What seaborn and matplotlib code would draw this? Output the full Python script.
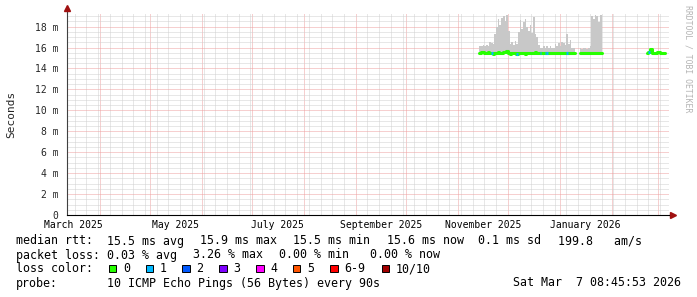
import pandas as pd
import numpy as np
import matplotlib
matplotlib.use('Agg')
import matplotlib.pyplot as plt
import matplotlib.dates as mdates
from matplotlib.ticker import MultipleLocator, FuncFormatter
from matplotlib.patches import Rectangle
import seaborn as sns

# Data (values in ms, one value per day)

seg1_start = '2025-11-14'
seg1_top = [16.1, 16.1, 16.2, 16.1, 16.2, 16.1, 16.5, 16.4, 16.3, 17.3,
            18.0, 18.7, 18.2, 18.8, 19.0, 18.5, 19.1, 17.6, 16.3, 16.5,
            16.2, 16.6, 16.3, 17.5, 18.6, 17.8, 18.4, 18.7, 18.0, 17.6,
            18.2, 17.4, 18.9, 17.3, 17.0, 16.2, 16.0, 16.0, 16.1, 16.0,
            16.1, 16.0, 16.1, 16.0, 16.0, 16.3, 16.1, 16.4, 16.1, 16.5,
            16.4, 16.2, 17.3, 16.3, 16.7, 16.0, 16.0]
seg1_med = [15.5, 15.6, 15.6, 15.5, 15.5, 15.6, 15.5, 15.5, 15.4, 15.5,
            15.5, 15.6, 15.5, 15.5, 15.6, 15.6, 15.7, 15.5, 15.4, 15.5,
            15.5, 15.5, 15.4, 15.5, 15.5, 15.5, 15.5, 15.4, 15.5, 15.5,
            15.5, 15.5, 15.5, 15.6, 15.5, 15.5, 15.5, 15.5, 15.5, 15.5,
            15.5, 15.5, 15.5, 15.5, 15.5, 15.5, 15.5, 15.5, 15.5, 15.5,
            15.5, 15.5, 15.5, 15.5, 15.5, 15.5, 15.5]
seg1_loss = [0, 0, 0, 0, 0, 0, 0, 1, 0, 0,
             0, 0, 0, 0, 0, 0, 0, 0, 0, 0,
             0, 0, 1, 0, 0, 0, 0, 0, 0, 0,
             0, 0, 0, 0, 0, 0, 1, 0, 0, 1,
             1, 0, 0, 0, 0, 0, 0, 0, 0, 0,
             0, 0, 1, 0, 0, 0, 0]

seg2_start = '2026-01-13'
seg2_top = [16.0, 15.9, 16.0, 16.0, 15.9, 16.0, 16.1, 19.0, 18.7, 19.1, 19.0, 18.4, 19.1]
seg2_med = [15.5, 15.5, 15.5, 15.5, 15.5, 15.5, 15.5, 15.5, 15.5, 15.5, 15.5, 15.5, 15.5]
seg2_loss = [0, 0, 0, 0, 0, 0, 0, 0, 0, 0, 0, 0, 0]

seg3_start = '2026-02-22'
seg3_top = [15.5, 15.6, 15.9, 15.5, 15.5, 15.5, 15.6, 15.6, 15.5, 15.5, 15.5]
seg3_med = [15.5, 15.6, 15.9, 15.5, 15.5, 15.5, 15.6, 15.6, 15.5, 15.5, 15.5]
seg3_loss = [0, 1, 0, 0, 0, 0, 0, 0, 0, 0, 0]

loss_labels = ['0', '1', '2', '3', '4', '5', '6-9', '10/10']
loss_colors = ['#26ff00', '#00b8ff', '#0059ff', '#7e00ff', '#ff00ff', '#ff5500', '#ff0000', '#a10000']

month_labels = ['March 2025', 'May 2025', 'July 2025', 'September 2025', 'November 2025', 'January 2026']
month_label_dates = ['2025-03-16', '2025-05-16', '2025-07-16', '2025-09-16', '2025-11-16', '2026-01-16']

t_start = pd.Timestamp('2025-03-12 08:45:53')
t_end = pd.Timestamp('2026-03-07 08:45:53')

rtt_line = [('median rtt:', 16), ('15.5 ms avg', 107), ('15.9 ms max', 200), ('15.5 ms min', 293),
            ('15.6 ms now', 387), ('0.1 ms sd', 478), ('199.8   am/s', 558)]
loss_line = [('packet loss:', 16), ('0.03 % avg', 107), ('3.26 % max', 193),
             ('0.00 % min', 279), ('0.00 % now', 370)]
probe_text = '10 ICMP Echo Pings (56 Bytes) every 90s'
stamp_text = 'Sat Mar  7 08:45:53 2026'

# Make plot

sns.set_style('white')
plt.rcParams['font.family'] = ['DejaVu Sans Mono']
W, H = 697, 297
fig = plt.figure(figsize=(W / 100, H / 100), dpi=100)
ax = fig.add_axes([67 / W, (H - 215) / H, 602 / W, 202 / H])

segments = [(seg1_start, seg1_top, seg1_med, seg1_loss, True),
            (seg2_start, seg2_top, seg2_med, seg2_loss, True),
            (seg3_start, seg3_top, seg3_med, seg3_loss, False)]

for start, top, med, loss, smoke in segments:
    days = pd.date_range(start, periods=len(med) + 1, freq='D')
    df = pd.DataFrame({'t': days, 'top': top + [top[-1]], 'med': med + [med[-1]]})
    if smoke:
        ax.fill_between(df['t'], df['med'] - 0.1, df['top'], step='post',
                        color='#c8c8c8', linewidth=0, zorder=2)
    sns.lineplot(data=df, x='t', y='med', ax=ax, drawstyle='steps-post',
                 color=loss_colors[0], linewidth=2.2, zorder=3)
    for i, l in enumerate(loss):
        if l:
            ax.hlines(med[i], days[i], days[i + 1], colors=loss_colors[l], linewidth=2.2, zorder=4)

ax.set_xlim(t_start, t_end)
ax.set_ylim(0, 19.3)

# grid
grid_minor = dict(color='#d0d0d0', linestyle=(0, (1, 1)), linewidth=0.72)
grid_major = dict(color='#eea0a0', linestyle=(0, (1, 1)), linewidth=0.72)
ax.xaxis.set_major_locator(mdates.MonthLocator())
ax.xaxis.set_minor_locator(mdates.WeekdayLocator(byweekday=mdates.MO))
ax.yaxis.set_major_locator(MultipleLocator(2))
ax.yaxis.set_minor_locator(MultipleLocator(0.5))
ax.grid(which='minor', **grid_minor)
ax.grid(which='major', **grid_major)
ax.set_axisbelow(True)
ax.xaxis.set_major_formatter(FuncFormatter(lambda v, p: ''))
ax.yaxis.set_major_formatter(FuncFormatter(lambda v, p: '0' if v == 0 else '%d m' % v))
ax.tick_params(axis='x', which='both', length=2, color='#eea0a0', pad=0)
ax.tick_params(axis='x', which='minor', length=0)
ax.tick_params(axis='y', which='major', length=3, color='black', labelsize=7, pad=3)
ax.tick_params(axis='y', which='minor', length=0)
ax.set_xlabel('')
ax.set_ylabel('Seconds', fontsize=8)
ax.yaxis.set_label_coords(-51 / 602, 0.5)

for s in ['top', 'right']:
    ax.spines[s].set_visible(False)
ax.spines['left'].set_color('#404040')
ax.spines['left'].set_linewidth(0.8)
ax.spines['bottom'].set_color('black')
ax.spines['bottom'].set_linewidth(0.8)

# axis arrows
ax.plot([0, 0], [1, 1.025], color='#404040', lw=0.8, transform=ax.transAxes, clip_on=False)
ax.plot([0], [1.025], marker='^', ms=4, color='#a01010', transform=ax.transAxes, clip_on=False)
ax.plot([1, 1.006], [0, 0], color='black', lw=0.8, transform=ax.transAxes, clip_on=False)
ax.plot([1.006], [0], marker='>', ms=4, color='#a01010', transform=ax.transAxes, clip_on=False)

for lab, d in zip(month_labels, month_label_dates):
    ax.text(pd.Timestamp(d), -10.5 / 202, lab, transform=ax.get_xaxis_transform(),
            ha='center', va='center', fontsize=7, color='black')

fig.text(688 / W, 1 - 5 / H, 'RRDTOOL / TOBI OETIKER', rotation=270, ha='center', va='top',
         fontsize=5.9, color='#b4b4b4')

# legend text
fs = 8.4
def put(txt, x, y):
    fig.text(x / W, 1 - y / H, txt, ha='left', va='center', fontsize=fs, color='black')

for txt, x in rtt_line:
    put(txt, x, 241)
for txt, x in loss_line:
    put(txt, x, 255)
put('loss color:', 16, 269)
box_x = [108.5, 145.5, 182, 219, 256, 292.5, 330, 381.5]
for lab, col, bx in zip(loss_labels, loss_colors, box_x):
    fig.patches.append(Rectangle((bx / W, 1 - 272 / H), 7.5 / W, 7.5 / H, transform=fig.transFigure,
                                 facecolor=col, edgecolor='black', linewidth=0.7))
    put(lab, bx + 14.5, 269)
put('probe:', 16, 283)
put(probe_text, 107, 283)
put(stamp_text, 513, 283)

plt.savefig('out.png', dpi=100)
